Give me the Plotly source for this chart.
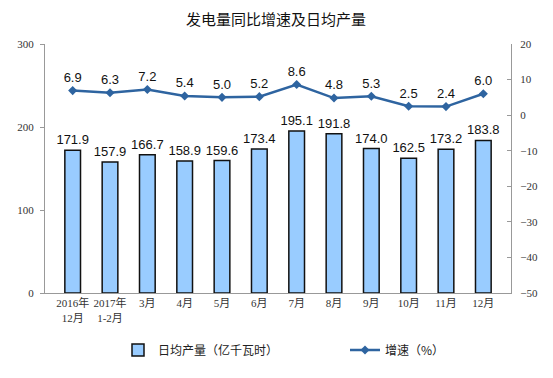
import plotly.graph_objects as go

categories = ["2016年<br>12月", "2017年<br>1-2月", "3月", "4月", "5月", "6月", "7月", "8月", "9月", "10月", "11月", "12月"]
daily_output = [171.9, 157.9, 166.7, 158.9, 159.6, 173.4, 195.1, 191.8, 174.0, 162.5, 173.2, 183.8]
growth_rate = [6.9, 6.3, 7.2, 5.4, 5.0, 5.2, 8.6, 4.8, 5.3, 2.5, 2.4, 6.0]

label_font = dict(family="Liberation Sans, Arial, sans-serif", size=13, color="#111111")
tick_font = dict(family="Liberation Serif, Noto Sans CJK SC, serif", size=11, color="#333333")
cjk = "Noto Sans CJK SC, sans-serif"

fig = go.Figure()
fig.add_trace(go.Bar(
    x=categories, y=daily_output, name="日均产量（亿千瓦时）",
    marker=dict(color="#99CCFF", line=dict(color="#111111", width=1.5)),
    width=0.42,
    text=[f"{v:.1f}" for v in daily_output], textposition="outside",
    textfont=label_font, cliponaxis=False, constraintext="none",
    legend="legend",
))
fig.add_trace(go.Scatter(
    x=categories, y=growth_rate, name="增速（%）", yaxis="y2",
    mode="lines+markers+text",
    line=dict(color="#2E64A0", width=2.5),
    marker=dict(symbol="diamond", size=7, color="#2E64A0"),
    text=[f"{v:.1f}" for v in growth_rate], textposition="top center",
    textfont=label_font, cliponaxis=False,
    legend="legend2",
))

# page offset (body margin) is 8px
plot_l, plot_w, plot_b, plot_h = 45, 466, 293, 249
def lx(px):
    return (px - plot_l) / plot_w
def ly(py):
    return (plot_b - py) / plot_h

leg_common = dict(orientation="h", yanchor="middle", y=ly(350), xanchor="left",
                  font=dict(family=cjk, size=12, color="#222222"),
                  bgcolor="rgba(0,0,0,0)")

fig.update_layout(
    width=545, height=370,
    margin=dict(l=37, r=42, t=36, b=85, autoexpand=False),
    paper_bgcolor="white", plot_bgcolor="white",
    title=dict(text="发电量同比增速及日均产量", x=(276 - 8) / 545, xanchor="center",
               y=1 - 12 / 370, yanchor="middle",
               font=dict(family=cjk, size=15, color="#111111")),
    showlegend=True,
    legend=dict(x=lx(118), **leg_common),
    legend2=dict(x=lx(345), **leg_common),
    xaxis=dict(showline=True, linecolor="#999999", linewidth=1, tickfont=tick_font,
               ticks="", showgrid=False),
    yaxis=dict(range=[0, 300], dtick=100, showline=True, linecolor="#999999", linewidth=1,
               ticks="outside", ticklen=4, tickcolor="#999999", showgrid=False,
               tickfont=tick_font, zeroline=False, ticklabelstandoff=4),
    yaxis2=dict(range=[-50, 20], dtick=10, overlaying="y", side="right", showline=True,
                linecolor="#999999", linewidth=1, ticks="inside", ticklen=4, tickcolor="#999999",
                showgrid=False, tickfont=tick_font, zeroline=False, ticklabelstandoff=6),
)

fig.write_html("out.html")
